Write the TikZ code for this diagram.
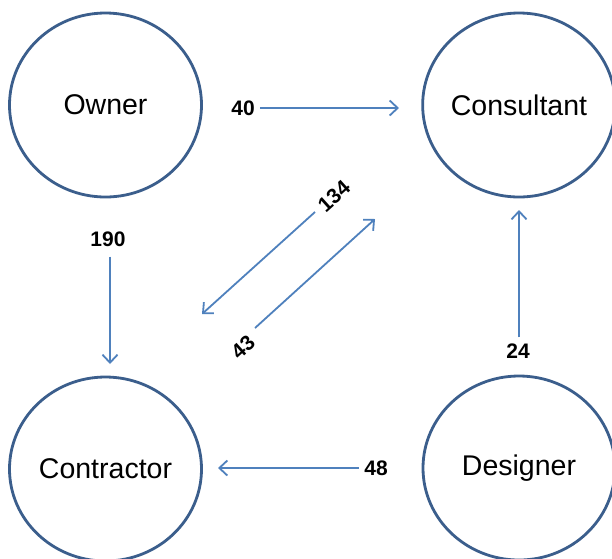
\documentclass[tikz,border=0pt]{standalone}
\usepackage{fontspec}
\setmainfont{Liberation Sans}
\usetikzlibrary{shapes.geometric,arrows.meta}
\definecolor{ringblue}{HTML}{3B5E8C}
\definecolor{arrowblue}{HTML}{4F81BD}
\tikzset{
  party/.style={draw=ringblue, line width=2.8pt, ellipse, minimum width=192pt, minimum height=184pt, inner sep=0pt, font=\fontsize{28.5}{32}\selectfont},
  qty/.style={font=\fontsize{21}{24}\selectfont\bfseries, inner sep=2pt},
  flow/.style={draw=arrowblue, line width=1.8pt, -{Straight Barb[length=8pt,width=15pt,line width=1.8pt]}}
}
\begin{document}
\begin{tikzpicture}[x=1pt,y=-1pt]
\useasboundingbox (0,0) rectangle (612,558);
\fill[white] (0,0) rectangle (612,558);
% parties
\node[party] (owner) at (105.5,105) {Owner};
\node[party] (consultant) at (519,105) {Consultant};
\node[party] (contractor) at (105.5,469) {Contractor};
\node[party] (designer) at (519,468) {Designer};
% quantity labels
\node[qty] (l40) at (243,108) {40};
\node[qty] (l190) at (108,239) {190};
\node[qty] (l24) at (518,351) {24};
\node[qty] (l48) at (376,468) {48};
\node[qty, rotate=42] (l134) at (334,196) {134};
\node[qty, rotate=42] (l43) at (243,347) {43};
% arrow end points
\coordinate (t40) at (399,108);
\coordinate (t190) at (110,364);
\coordinate (t24) at (519,210);
\coordinate (t48) at (218,468);
\coordinate (s134) at (315,212);
\coordinate (t134) at (202,314);
\coordinate (s43) at (255,328);
\coordinate (t43) at (375,219);
% flows
\draw[flow] (l40.east) ++(3,0) -- (t40);
\draw[flow] (l190.south -| t190) ++(0,8) -- (t190);
\draw[flow] (l24.north -| t24) ++(0,-4) -- (t24);
\draw[flow] (l48.west) ++(-3,0) -- (t48);
\draw[flow] (s134) -- (t134);
\draw[flow] (s43) -- (t43);
\end{tikzpicture}
\end{document}
